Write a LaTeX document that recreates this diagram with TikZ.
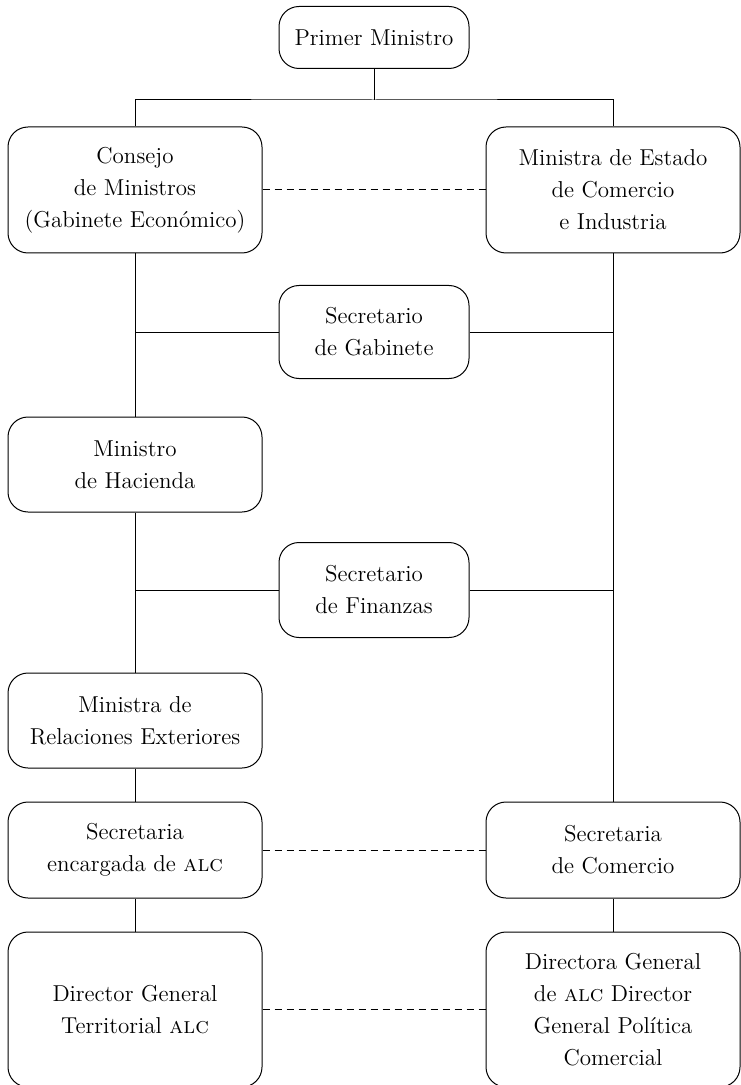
\documentclass[tikz,border=0pt]{standalone}
\usetikzlibrary{positioning}

\begin{document}
\begin{tikzpicture}[x=0.5pt, y=-0.5pt, line width=0.5pt,
    office/.style={draw, rounded corners=10pt, align=center, inner sep=2pt,
      font=\fontsize{11.5}{16}\selectfont},
    wide/.style={office, minimum width=127pt},
    narrow/.style={office, minimum width=95pt},
    peer/.style={dash pattern=on 3.5pt off 2.5pt}]

    \useasboundingbox (0,0) rectangle (740,1085);

    \node[narrow, minimum height=31pt] (pm) at (374,37.5) {Primer Ministro};

    \node[wide, minimum height=63pt] (cons) at (135,190)
      {Consejo\\de Ministros\\(Gabinete Económico)};
    \node[wide, minimum height=63pt, right = 111.5pt of cons] (mest)
      {Ministra de Estado\\de Comercio\\e Industria};

    \node[narrow, minimum height=46.5pt] (sgab) at (374,332)
      {Secretario\\de Gabinete};

    \node[wide, minimum height=47.5pt, below = 81.5pt of cons] (hac)
      {Ministro\\de Hacienda};

    \node[narrow, minimum height=47.5pt] (sfin) at (374,590)
      {Secretario\\de Finanzas};

    \node[wide, minimum height=47.5pt, below = 80pt of hac] (rel)
      {Ministra de\\Relaciones Exteriores};

    \node[wide, minimum height=48pt, below = 16.5pt of rel] (senc)
      {Secretaria\\encargada de \textsc{alc}};
    \node[wide, minimum height=48pt, right = 111.5pt of senc] (scom)
      {Secretaria\\de Comercio};

    \node[wide, minimum height=77.5pt, below = 16.5pt of senc] (dgt)
      {Director General\\Territorial \textsc{alc}};
    \node[wide, minimum height=77.5pt, right = 111.5pt of dgt] (dgc)
      {Directora General\\de \textsc{alc} Director\\General Política\\Comercial};

    % top split
    \coordinate (split) at (374,100);
    \draw (pm) -- (split);
    \draw (cons.north) |- (split) -| (mest.north);

    % left column
    \draw (cons) -- (hac);
    \draw (hac) -- (rel);
    \draw (rel) -- (senc);
    \draw (senc) -- (dgt);

    % right column
    \draw (mest) -- (scom);
    \draw (scom) -- (dgc);

    % secretaries
    \draw (cons.south |- sgab.west) -- (sgab.west);
    \draw (sgab.east) -- (mest.south |- sgab.east);
    \draw (hac.south |- sfin.west) -- (sfin.west);
    \draw (sfin.east) -- (mest.south |- sfin.east);

    % dashed links
    \draw[peer] (cons) -- (mest);
    \draw[peer] (senc) -- (scom);
    \draw[peer] (dgt) -- (dgc);

\end{tikzpicture}
\end{document}
